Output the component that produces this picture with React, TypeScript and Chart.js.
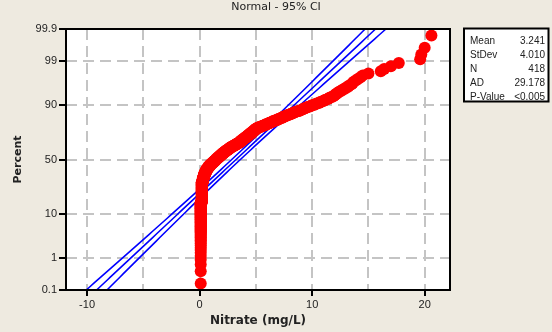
import React, { useEffect, useRef } from 'react';
import { Chart, registerables } from 'chart.js';

Chart.register(...registerables);

const TITLE = 'Normal - 95% CI';
const X_TITLE = 'Nitrate (mg/L)';
const Y_TITLE = 'Percent';
const X_GRID_TICKS = [-10, -5, 0, 5, 10, 15, 20];
const X_LABELLED_TICKS = [-10, 0, 10, 20];
const Y_PERCENT_TICKS = [0.1, 1, 10, 50, 90, 99, 99.9];
const Y_PERCENT_LABELS = ['0.1', '1', '10', '50', '90', '99', '99.9'];

// Nitrate sample (mg/L), as distinct values and how many times each occurs
const NITRATE_LEVELS = [
  0.1, 0.2, 0.3, 0.4, 0.5, 0.6, 0.7, 0.8, 0.9,
  1.0, 1.1, 1.2, 1.3, 1.4, 1.5, 1.6, 1.7, 1.8, 1.9, 2.0,
  2.1, 2.2, 2.3, 2.4, 2.5, 2.6, 2.7, 2.8, 2.9, 3.0,
  3.1, 3.2, 3.3, 3.4, 3.5, 3.6, 3.7, 3.8, 3.9, 4.0,
  4.1, 4.2, 4.3, 4.4, 4.5, 4.6, 4.7, 4.8, 4.9, 5.0,
  5.1, 5.2, 5.3, 5.4, 5.5, 5.6, 5.7, 5.8, 5.9, 6.0,
  6.1, 6.2, 6.3, 6.4, 6.5, 6.6, 6.7, 6.8, 6.9, 7.0,
  7.1, 7.2, 7.3, 7.4, 7.5, 7.6, 7.7, 7.8, 7.9, 8.0,
  8.1, 8.2, 8.3, 8.4, 8.5, 8.6, 8.8, 8.9, 9.0, 9.1,
  9.2, 9.3, 9.4, 9.5, 9.6, 9.8, 9.9, 10.0, 10.2, 10.3,
  10.4, 10.6, 10.7, 10.8, 11.0, 11.1, 11.2, 11.4, 11.5, 11.6,
  11.8, 11.9, 12.0, 12.1, 12.2, 12.3, 12.4, 12.6, 12.7, 12.9,
  13.0, 13.2, 13.3, 13.5, 13.6, 13.7, 13.9, 14.1, 14.3, 14.5,
  15.0, 16.1, 16.4, 17.0, 17.7, 19.6, 19.7, 20.0, 20.6,
];
const NITRATE_COUNTS = [
  65, 60, 15, 12, 10, 8, 6, 6, 6,
  4, 4, 4, 4, 4, 4, 4, 4, 4, 4, 4,
  4, 3, 4, 3, 3, 3, 3, 3, 2, 3,
  2, 3, 2, 2, 3, 3, 4, 3, 3, 3,
  3, 3, 3, 3, 3, 3, 3, 3, 3, 3,
  2, 1, 2, 1, 1, 2, 1, 1, 2, 1,
  1, 2, 1, 1, 2, 1, 1, 1, 1, 2,
  1, 1, 1, 2, 1, 1, 1, 1, 1, 1,
  1, 1, 1, 1, 1, 1, 1, 1, 1, 1,
  1, 1, 1, 1, 1, 1, 1, 1, 1, 1,
  1, 1, 1, 1, 1, 1, 1, 1, 1, 1,
  1, 1, 1, 1, 1, 1, 1, 1, 1, 1,
  1, 1, 1, 1, 1, 1, 1, 1, 1, 1,
  1, 1, 1, 1, 1, 1, 1, 1, 1,
];

const MEAN = 3.241;
const STDEV = 4.01;
const N = 418;
const STAT_NAMES = ['Mean', 'StDev', 'N', 'AD', 'P-Value'];
const STAT_VALUES = ['3.241', '4.010', '418', '29.178', '<0.005'];

const BG = '#eeeae0';

function normInv(p: number): number {
  const a = [-3.969683028665376e1, 2.209460984245205e2, -2.759285104469687e2, 1.38357751867269e2, -3.066479806614716e1, 2.506628277459239];
  const b = [-5.447609879822406e1, 1.615858368580409e2, -1.556989798598866e2, 6.680131188771972e1, -1.328068155288572e1];
  const c = [-7.784894002430293e-3, -3.223964580411365e-1, -2.400758277161838, -2.549671010161724, 4.374664141464968, 2.938163982698783];
  const d = [7.784695709041462e-3, 3.224671290700398e-1, 2.445134137142996, 3.754408661907416];
  const pl = 0.02425;
  if (p < pl) {
    const q = Math.sqrt(-2 * Math.log(p));
    return (((((c[0] * q + c[1]) * q + c[2]) * q + c[3]) * q + c[4]) * q + c[5]) / ((((d[0] * q + d[1]) * q + d[2]) * q + d[3]) * q + 1);
  }
  if (p <= 1 - pl) {
    const q = p - 0.5;
    const r = q * q;
    return ((((((a[0] * r + a[1]) * r + a[2]) * r + a[3]) * r + a[4]) * r + a[5]) * q) / (((((b[0] * r + b[1]) * r + b[2]) * r + b[3]) * r + b[4]) * r + 1);
  }
  const q = Math.sqrt(-2 * Math.log(1 - p));
  return -(((((c[0] * q + c[1]) * q + c[2]) * q + c[3]) * q + c[4]) * q + c[5]) / ((((d[0] * q + d[1]) * q + d[2]) * q + d[3]) * q + 1);
}

const Y_TICK_Z = Y_PERCENT_TICKS.map((p) => normInv(p / 100));
const Z_MIN = Y_TICK_Z[0];
const Z_MAX = Y_TICK_Z[Y_TICK_Z.length - 1];

const overlayPlugin = {
  id: 'overlay',
  beforeDraw(chart: any) {
    const { ctx, chartArea: a } = chart;
    ctx.save();
    ctx.fillStyle = '#ffffff';
    ctx.fillRect(a.left, a.top, a.right - a.left, a.bottom - a.top);
    ctx.restore();
  },
  afterDraw(chart: any) {
    const { ctx, chartArea: a } = chart;
    ctx.save();
    ctx.setLineDash([]);
    ctx.strokeStyle = '#000';
    ctx.lineWidth = 2;
    ctx.strokeRect(a.left, a.top, a.right - a.left, a.bottom - a.top);

    ctx.fillStyle = '#222';
    ctx.font = '11px "DejaVu Sans"';
    ctx.textAlign = 'center';
    ctx.textBaseline = 'middle';
    ctx.fillText(TITLE, chart.width / 2, 7);

    const bx = 464, by = 28.5, bw = 84.5, bh = 73;
    ctx.fillStyle = '#ffffff';
    ctx.fillRect(bx, by, bw, bh);
    ctx.fillStyle = '#222';
    ctx.font = '10px "Liberation Sans"';
    for (let i = 0; i < STAT_NAMES.length; i++) {
      const y = 41.7 + i * 13.9;
      ctx.textAlign = 'left';
      ctx.fillText(STAT_NAMES[i], 470, y);
      ctx.textAlign = 'right';
      ctx.fillText(STAT_VALUES[i], 545, y);
    }
    ctx.strokeStyle = '#000';
    ctx.lineWidth = 2;
    ctx.strokeRect(bx, by, bw, bh);
    ctx.restore();
  },
};

export default function App() {
  const ref = useRef<HTMLCanvasElement | null>(null);

  useEffect(() => {
    document.body.style.margin = '0';
    document.body.style.background = BG;
    const canvas = ref.current;
    if (!canvas) return;

    const sorted: number[] = [];
    NITRATE_LEVELS.forEach((v, i) => {
      for (let k = 0; k < NITRATE_COUNTS[i]; k++) sorted.push(v);
    });
    const n = sorted.length;
    const points = sorted.map((v, i) => ({ x: v, y: normInv((i + 1 - 0.3) / (n + 0.4)) }));

    const zs: number[] = [];
    const steps = 80;
    for (let i = 0; i <= steps; i++) zs.push(Z_MIN + ((Z_MAX - Z_MIN) * i) / steps);
    const half = (z: number) => 1.96 * STDEV * Math.sqrt(1 / N + (z * z) / (2 * N));
    const fit = zs.map((z) => ({ x: MEAN + STDEV * z, y: z }));
    const lower = zs.map((z) => ({ x: MEAN + STDEV * z - half(z), y: z }));
    const upper = zs.map((z) => ({ x: MEAN + STDEV * z + half(z), y: z }));

    const lineDs = (data: any[]) => ({
      data,
      showLine: true,
      borderColor: '#0000ff',
      borderWidth: 1.6,
      pointRadius: 0,
      fill: false,
      order: 1,
    });

    const chart = new Chart(canvas, {
      type: 'scatter',
      data: {
        datasets: [
          {
            data: points,
            pointRadius: 6,
            pointHoverRadius: 6,
            backgroundColor: '#ff0000',
            borderWidth: 0,
            order: 0,
          } as any,
          lineDs(upper) as any,
          lineDs(fit) as any,
          lineDs(lower) as any,
        ],
      },
      options: {
        animation: false,
        responsive: false,
        devicePixelRatio: 1,
        layout: { padding: { top: 29, right: 102, left: 0, bottom: 0 } },
        plugins: { legend: { display: false }, tooltip: { enabled: false }, title: { display: false } },
        scales: {
          x: {
            type: 'linear',
            min: -11.87,
            max: 22.25,
            afterFit: (s: any) => { s.height = 42; },
            afterBuildTicks: (s: any) => { s.ticks = X_GRID_TICKS.map((v) => ({ value: v })); },
            ticks: {
              callback: (v: any) => (X_LABELLED_TICKS.includes(Number(v)) ? String(v) : ''),
              color: '#222',
              font: { family: 'Liberation Sans', size: 11 },
              padding: 2,
              maxRotation: 0,
              autoSkip: false,
            },
            grid: {
              color: '#c4c4c4',
              lineWidth: 2,
              drawTicks: true,
              tickLength: 6,
              tickWidth: 2,
              tickColor: (ctx: any) => (X_LABELLED_TICKS.includes(ctx.tick?.value) ? '#000' : 'rgba(0,0,0,0)'),
              tickBorderDash: [],
            } as any,
            border: { display: false, dash: [11, 6] } as any,
            title: {
              display: true,
              text: X_TITLE,
              color: '#222',
              font: { family: 'DejaVu Sans', size: 12, weight: 'bold' },
              padding: { top: 0, bottom: 4 },
            },
          },
          y: {
            type: 'linear',
            min: Z_MIN,
            max: Z_MAX,
            afterFit: (s: any) => { s.width = 66; },
            afterBuildTicks: (s: any) => { s.ticks = Y_TICK_Z.map((v) => ({ value: v })); },
            ticks: {
              callback: (_v: any, i: number) => Y_PERCENT_LABELS[i],
              color: '#222',
              font: { family: 'Liberation Sans', size: 11 },
              padding: 2,
              autoSkip: false,
            },
            grid: {
              color: (ctx: any) => (ctx.index === 0 || ctx.index === Y_TICK_Z.length - 1 ? 'rgba(0,0,0,0)' : '#c4c4c4'),
              lineWidth: 2,
              drawTicks: true,
              tickLength: 7,
              tickWidth: 2,
              tickColor: '#000',
              tickBorderDash: [],
            } as any,
            border: { display: false, dash: [11, 6] } as any,
            title: {
              display: true,
              text: Y_TITLE,
              color: '#222',
              font: { family: 'DejaVu Sans', size: 11, weight: 'bold' },
              padding: { top: 12, bottom: 0 },
            },
          },
        },
      },
      plugins: [overlayPlugin],
    });

    return () => chart.destroy();
  }, []);

  return <canvas ref={ref} width={552} height={332} style={{ display: 'block', width: 552, height: 332 }} />;
}
